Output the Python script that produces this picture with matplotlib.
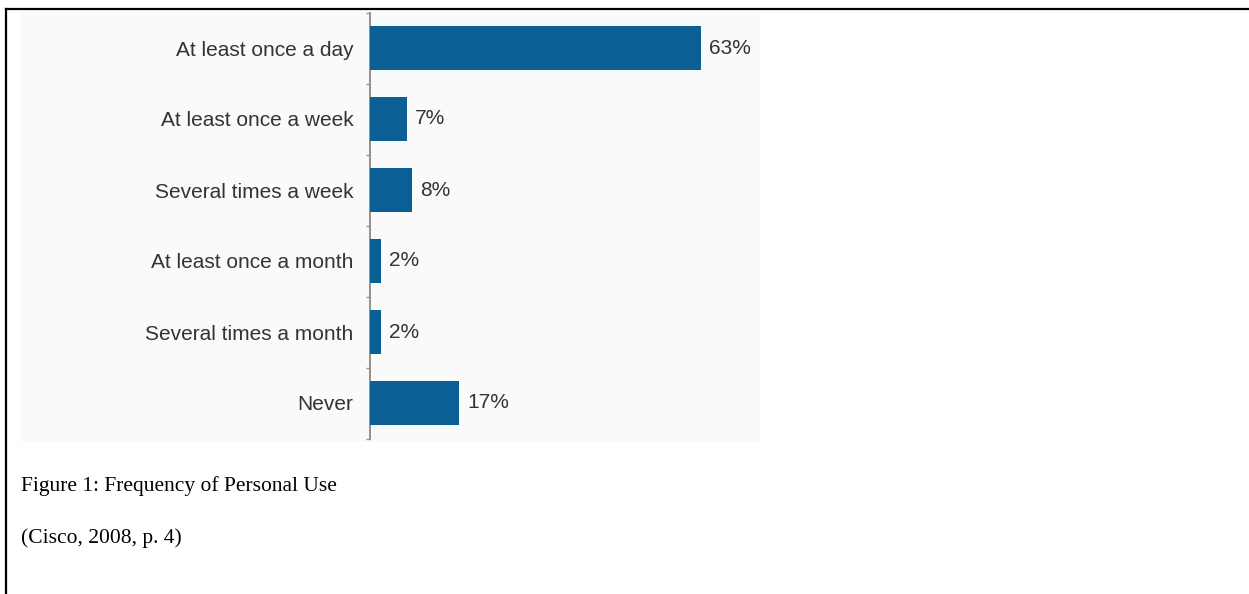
import matplotlib.pyplot as plt
import matplotlib.patches as patches
import numpy as np

categories = ['At least once a day', 'At least once a week', 'Several times a week',
              'At least once a month', 'Several times a month', 'Never']
values = [63, 7, 8, 2, 2, 17]
value_labels = ['63%', '7%', '8%', '2%', '2%', '17%']

BAR_COLOR = '#0a5f94'
TEXT_COLOR = '#333333'

fig = plt.figure(figsize=(12.49, 5.94), dpi=100)
fig.patch.set_facecolor('white')

# faint backdrop of the pasted chart image
fig.patches.append(patches.Rectangle((20 / 1249, 1 - 442 / 594), 740 / 1249, 430 / 594,
                                     transform=fig.transFigure, facecolor='#fafafa',
                                     edgecolor='none', zorder=-1))

ax = fig.add_axes([370 / 1249, 1 - 438.5 / 594, 388.5 / 1249, 426 / 594])
ax.set_facecolor('none')

y = np.arange(len(categories))
ax.barh(y, values, height=0.62, color=BAR_COLOR, zorder=3)
for yi, v, lab in zip(y, values, value_labels):
    ax.text(v + 1.6, yi, lab, va='center', ha='left', fontsize=15,
            family='Liberation Sans', color=TEXT_COLOR)

ax.set_xlim(0, 74)
ax.set_ylim(len(categories) - 0.5, -0.5)
ax.set_yticks(y)
ax.set_yticklabels(categories, fontsize=15, family='Liberation Sans', color=TEXT_COLOR)
ax.set_yticks(np.arange(-0.5, len(categories)), minor=True)
ax.tick_params(axis='y', which='major', length=0, pad=12)
ax.tick_params(axis='y', which='minor', length=3, width=1, color='#9a9088')
ax.set_xticks([])
for s in ['top', 'right', 'bottom']:
    ax.spines[s].set_visible(False)
ax.spines['left'].set_color('#9a9088')
ax.spines['left'].set_linewidth(1.4)

fig.text(21 / 1249, 1 - 486 / 594, 'Figure 1: Frequency of Personal Use', fontsize=15.5,
         family='Liberation Serif', va='center', ha='left', color='black')
fig.text(21 / 1249, 1 - 538 / 594, '(Cisco, 2008, p. 4)', fontsize=15.5,
         family='Liberation Serif', va='center', ha='left', color='black')

# document frame lines (top and left)
fig.add_artist(plt.Line2D([5.5 / 1249, 1], [1 - 9 / 594, 1 - 9 / 594],
                          transform=fig.transFigure, color='black', lw=1.6))
fig.add_artist(plt.Line2D([6 / 1249, 6 / 1249], [0, 1 - 9 / 594],
                          transform=fig.transFigure, color='black', lw=1.6))

fig.savefig('out.png', dpi=100)
